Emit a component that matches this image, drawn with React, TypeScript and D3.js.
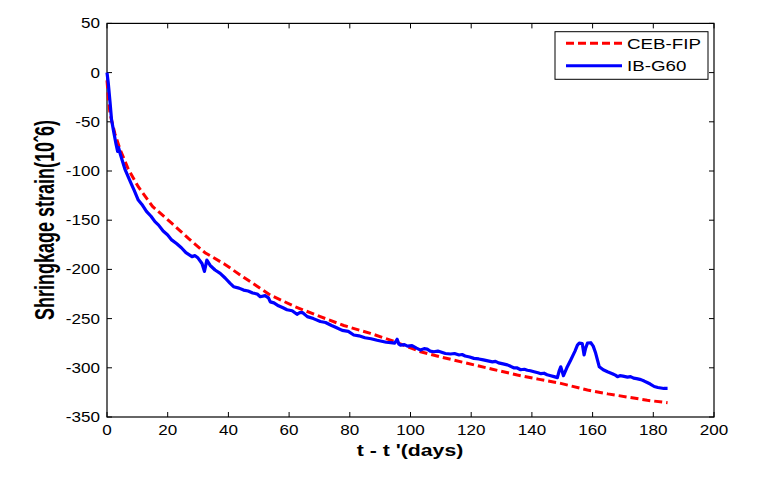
import React from "react";
import * as d3 from "d3";

const xTicks = [0, 20, 40, 60, 80, 100, 120, 140, 160, 180, 200];
const yTicks = [50, 0, -50, -100, -150, -200, -250, -300, -350];

const cebDays = [0, 0.5, 1, 2.6, 4.3, 7, 10.3, 15, 21.3, 27, 32.3, 38.9, 45, 53.8, 62, 70.3, 78, 86.8, 94.5, 103.3, 110, 118.7, 127, 135.2, 142, 149.5, 158.3, 165, 172, 178, 184.7];
const cebVals = [-8, -28, -42, -62, -78, -98, -116, -136, -153, -169, -183, -195, -208, -226, -238, -248, -257, -265, -273, -283.7, -289, -295.4, -301.5, -307.3, -311.5, -315.8, -322.6, -326.5, -330, -333, -335.5];

const ibDays = [0, 0.4, 1, 1.5, 2.2, 3.0, 3.5, 3.8, 4.4, 5, 5.9, 7, 8, 9, 10.3, 11.5, 13, 14.5, 15.8, 17, 18.5, 20, 21.3, 23, 24.5, 26, 28, 29, 30, 31.3, 32.1, 32.9, 34, 35.6, 37.3, 39, 40.5, 41.7, 43.5, 45, 46.5, 48, 49.5, 50.5, 52.1, 53.2, 53.8, 55, 56.5, 58, 59.3, 61, 62.6, 63.5, 64.5, 66, 68, 70.3, 72, 74, 75.5, 77.5, 79.5, 81.3, 83, 85, 87, 89, 90.5, 92, 93.5, 94.8, 95.6, 96.2, 96.7, 98, 99, 100.5, 102, 103.3, 104.5, 105.5, 106.5, 107.7, 109, 110, 111.5, 113.2, 114.5, 116, 117, 118, 119.5, 120.9, 122.5, 124, 125.5, 127, 128, 129, 130.5, 131.9, 133, 134, 135, 136.3, 137.5, 138.5, 139.5, 140.7, 142, 143, 144, 145, 146.2, 147.3, 148.4, 149, 149.5, 150.4, 151.5, 152.8, 154.2, 155, 155.6, 156.6, 157.2, 157.7, 158.3, 159.4, 160.2, 161, 162.2, 163.5, 164.9, 166.5, 167.5, 168.2, 169, 170, 171.5, 172.5, 173.5, 174.5, 175.9, 177, 178, 179, 180.3, 181.5, 182.5, 183.5, 184.7];
const ibVals = [0, -10, -30, -48, -60, -73, -80, -76, -83, -89, -98, -106, -113, -120, -129.5, -134, -141, -146, -151.5, -155, -161, -165, -170, -174, -178, -183, -187, -186, -188.5, -194, -202, -190.5, -196, -200.6, -204, -209, -214, -217.6, -219, -221, -222, -224, -225, -227.8, -226.7, -229, -233, -234, -237, -239, -241, -242, -245.6, -244, -244, -248, -250, -253, -254, -257, -259, -262, -263, -266.7, -267.5, -269.5, -270.5, -272, -273, -274, -274.5, -275, -271, -276, -277, -276.5, -278, -277.5, -280, -282, -280.5, -281, -283, -283.7, -283, -284, -285.5, -286, -285.5, -287, -286.5, -288, -289, -290.4, -291, -292, -293, -294, -293.5, -295, -296, -297, -298.5, -300, -300, -302, -301.5, -302.5, -303, -304, -305, -306, -305.5, -307, -308, -309, -310, -303, -299, -308, -300, -292, -283, -277, -275, -275.5, -287, -280, -275, -274.5, -278, -285, -299, -302, -304, -306, -307.5, -309, -308, -308.5, -309.5, -309, -310.5, -311, -312, -313.5, -315, -316.5, -319, -320, -320.5, -321, -321];

const W = 757;
const H = 481;
const left = 107;
const right = 714;
const top = 23.4;
const bottom = 417;
const SX = 1.22;

export default function App() {
  const x = d3.scaleLinear().domain([0, 200]).range([left, right]);
  const y = d3.scaleLinear().domain([-350, 50]).range([bottom, top]);

  const line = d3
    .line<[number, number]>()
    .x((d) => x(d[0]))
    .y((d) => y(d[1]));

  const cebPts: [number, number][] = cebDays.map((d, i) => [d, cebVals[i]]);
  const ibPts: [number, number][] = ibDays.map((d, i) => [d, ibVals[i]]);

  const font = "'Liberation Sans', Arial, sans-serif";

  return (
    <svg
      width={W}
      height={H}
      style={{ position: "absolute", left: 0, top: 0, background: "#fff" }}
      fontFamily={font}
    >
      <rect x={0} y={0} width={W} height={H} fill="#fff" />
      {/* ticks */}
      {xTicks.map((t) => (
        <g key={"x" + t}>
          <line x1={x(t)} x2={x(t)} y1={bottom} y2={bottom - 5} stroke="#000" strokeWidth={1} />
          <line x1={x(t)} x2={x(t)} y1={top} y2={top + 5} stroke="#000" strokeWidth={1} />
          <text transform={`translate(${x(t)},435) scale(${SX},1)`} textAnchor="middle" fontSize={14} fill="#000">
            {t}
          </text>
        </g>
      ))}
      {yTicks.map((t) => (
        <g key={"y" + t}>
          <line x1={left} x2={left + 5} y1={y(t)} y2={y(t)} stroke="#000" strokeWidth={1} />
          <line x1={right} x2={right - 5} y1={y(t)} y2={y(t)} stroke="#000" strokeWidth={1} />
          <text transform={`translate(100,${y(t) + 5}) scale(${SX},1)`} textAnchor="end" fontSize={14} fill="#000">
            {t}
          </text>
        </g>
      ))}
      <rect x={left} y={top} width={right - left} height={bottom - top} fill="none" stroke="#000" strokeWidth={1.2} />

      {/* data */}
      <path d={line(cebPts) || ""} fill="none" stroke="#ff0000" strokeWidth={3} strokeDasharray="8,4" />
      <path d={line(ibPts) || ""} fill="none" stroke="#0000ff" strokeWidth={3.2} strokeLinejoin="round" />

      {/* legend */}
      <rect x={555} y={31.7} width={153} height={47.6} fill="#fff" stroke="#000" strokeWidth={1} />
      <line x1={566} x2={622} y1={43.3} y2={43.3} stroke="#ff0000" strokeWidth={3} strokeDasharray="8,4" />
      <text transform={`translate(627,48.5) scale(1.25,1)`} fontSize={15} fill="#000">CEB-FIP</text>
      <line x1={566} x2={622} y1={65.7} y2={65.7} stroke="#0000ff" strokeWidth={3} />
      <text transform={`translate(627,71) scale(1.25,1)`} fontSize={15} fill="#000">IB-G60</text>

      {/* axis labels */}
      <text transform={`translate(410,456) scale(1.25,1)`} textAnchor="middle" fontSize={17} fontWeight="bold" fill="#000">
        t - t '(days)
      </text>
      <text
        transform={`translate(53.5,220) scale(1.5,1) rotate(-90)`}
        textAnchor="middle"
        fontSize={18}
        fontWeight="bold"
        fill="#000"
      >
        Shringkage strain(10ˆ6)
      </text>
    </svg>
  );
}
